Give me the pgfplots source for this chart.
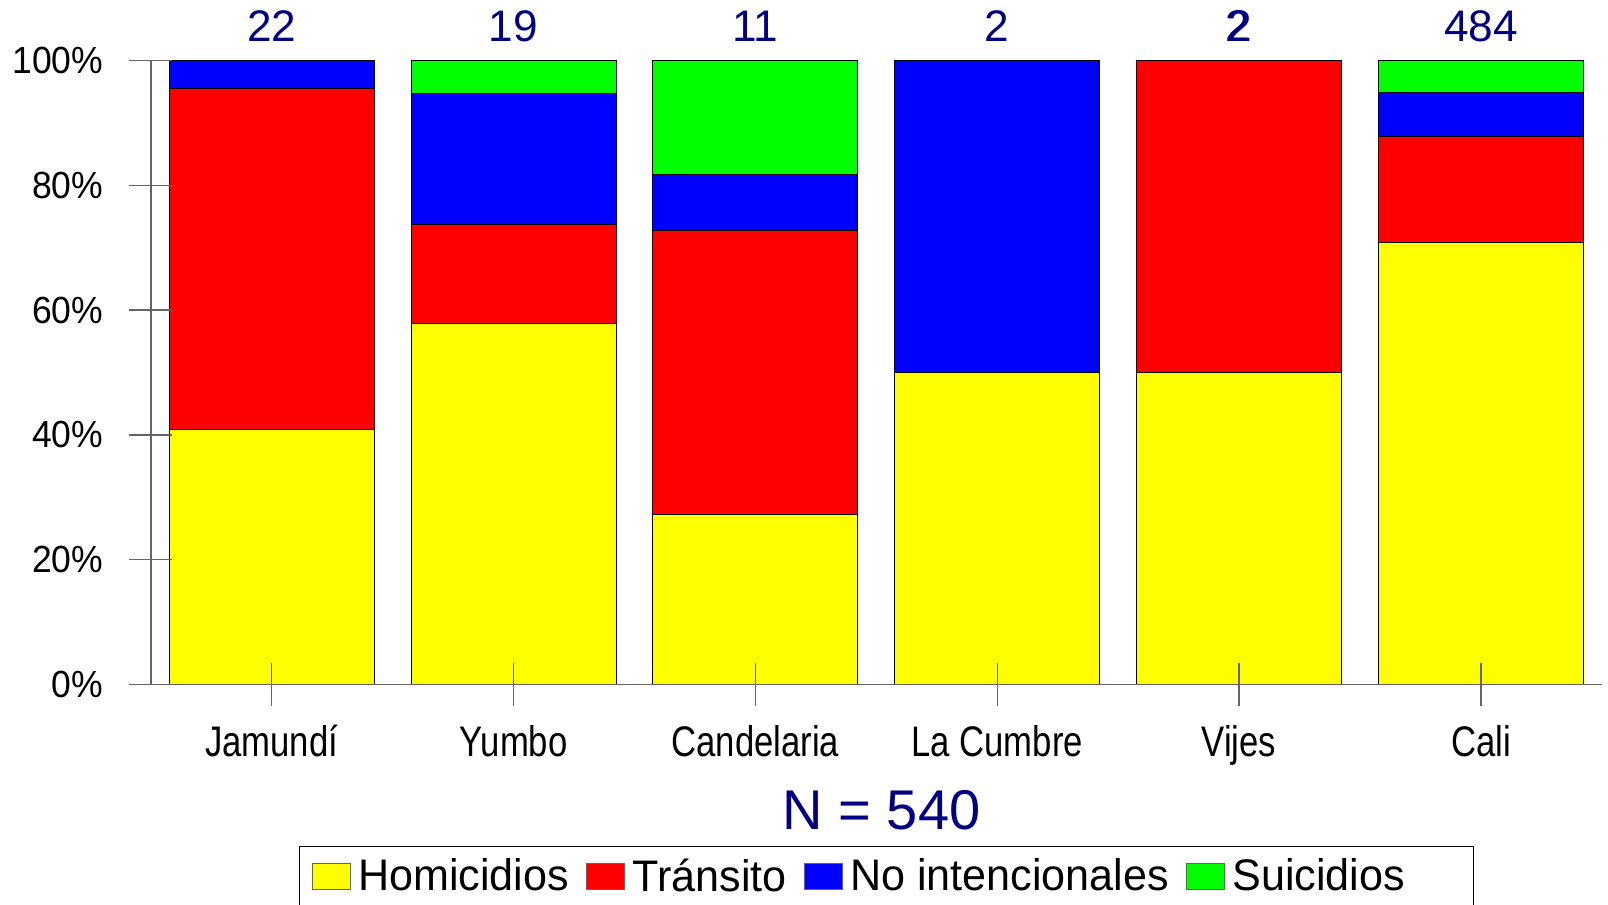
\documentclass[border=0pt]{standalone}
\usepackage{fontspec}
\setmainfont{Liberation Sans}
\newfontfamily\condfont{Liberation Sans}[FakeStretch=0.81]
\newfontfamily\legfont{Liberation Sans}[FakeStretch=0.975]
\newfontfamily\yfont{Liberation Sans}[FakeStretch=0.94]
\usepackage{pgfplots}
\pgfplotsset{compat=1.18}
\definecolor{navy}{RGB}{0,0,128}
\definecolor{axgray}{RGB}{100,100,100}
\definecolor{cYel}{RGB}{255,255,0}
\definecolor{cRed}{RGB}{255,0,0}
\definecolor{cBlue}{RGB}{0,0,255}
\definecolor{cGreen}{RGB}{0,255,0}
\tikzset{numlab/.style={anchor=base, text=navy, font=\fontsize{22.1pt}{24pt}\selectfont, yshift=9.5pt}}
\pgfplotsset{sqleg/.style={legend image code/.code={\draw[##1,line width=0.5pt,draw=axgray] (0pt,-6.5pt) rectangle (19pt,6.5pt); \path (20.8pt,0pt);}}}
\begin{document}
\begin{tikzpicture}[x=0.5pt,y=0.5pt]
\path[use as bounding box] (0,0) rectangle (1608,905);
\begin{axis}[
  at={(75.4pt,110.35pt)}, anchor=south west,
  scale only axis, width=725.5pt, height=311.85pt,
  xmin=-0.5, xmax=5.5, ymin=0, ymax=100,
  ybar stacked, bar width=102.5pt,
  axis x line*=bottom, axis y line*=left,
  axis line style={axgray, line width=0.7pt},
  tick style={axgray, line width=0.7pt},
  tick align=center, major tick length=21.5pt,
  xtick={0,1,2,3,4,5},
  xticklabels={Jamundí,Yumbo,Candelaria,La Cumbre,Vijes,Cali},
  xticklabel style={font=\condfont\fontsize{21.4pt}{24pt}\selectfont, yshift=-6.2pt},
  ytick={0,20,40,60,80,100},
  yticklabels={0\%,20\%,40\%,60\%,80\%,100\%},
  yticklabel style={font=\yfont\fontsize{18.9pt}{22pt}\selectfont, xshift=-9.5pt},
  axis on top,
  clip=false,
  legend columns=4,
  legend style={at={(0.1023,-0.2593)}, anchor=north west, draw=black, line width=0.5pt,
    font=\legfont\fontsize{22.1pt}{24pt}\selectfont, inner xsep=6pt, inner ysep=4pt,
    /tikz/every even column/.append style={column sep=6.5pt}},
]
\addplot[fill=cYel, draw=black, line width=0.5pt, sqleg] coordinates {(0,40.91) (1,57.89) (2,27.27) (3,50) (4,50) (5,70.87)};
\addplot[fill=cRed, draw=black, line width=0.5pt, sqleg] coordinates {(0,54.55) (1,15.79) (2,45.45) (3,0) (4,50) (5,16.94)};
\addplot[fill=cBlue, draw=black, line width=0.5pt, sqleg] coordinates {(0,4.55) (1,21.05) (2,9.09) (3,50) (4,0) (5,7.02)};
\addplot[fill=cGreen, draw=black, line width=0.5pt, sqleg] coordinates {(0,0) (1,5.26) (2,18.18) (3,0) (4,0) (5,5.17)};
\legend{Homicidios,Tránsito,No intencionales,Suicidios\hspace*{26pt}}
\node[numlab] at (axis cs:0,100) {22};
\node[numlab] at (axis cs:1,100) {19};
\node[numlab] at (axis cs:2,100) {11};
\node[numlab] at (axis cs:3,100) {2};
\node[numlab, xshift=-0.7pt] at (axis cs:4,100) {2};
\node[numlab, xshift=0.3pt] at (axis cs:4,100) {2};
\node[numlab] at (axis cs:5,100) {484};
\end{axis}
\node[anchor=base, text=navy, font=\fontsize{28pt}{30pt}\selectfont] at (881.5,75) {N = 540};
\end{tikzpicture}
\end{document}
